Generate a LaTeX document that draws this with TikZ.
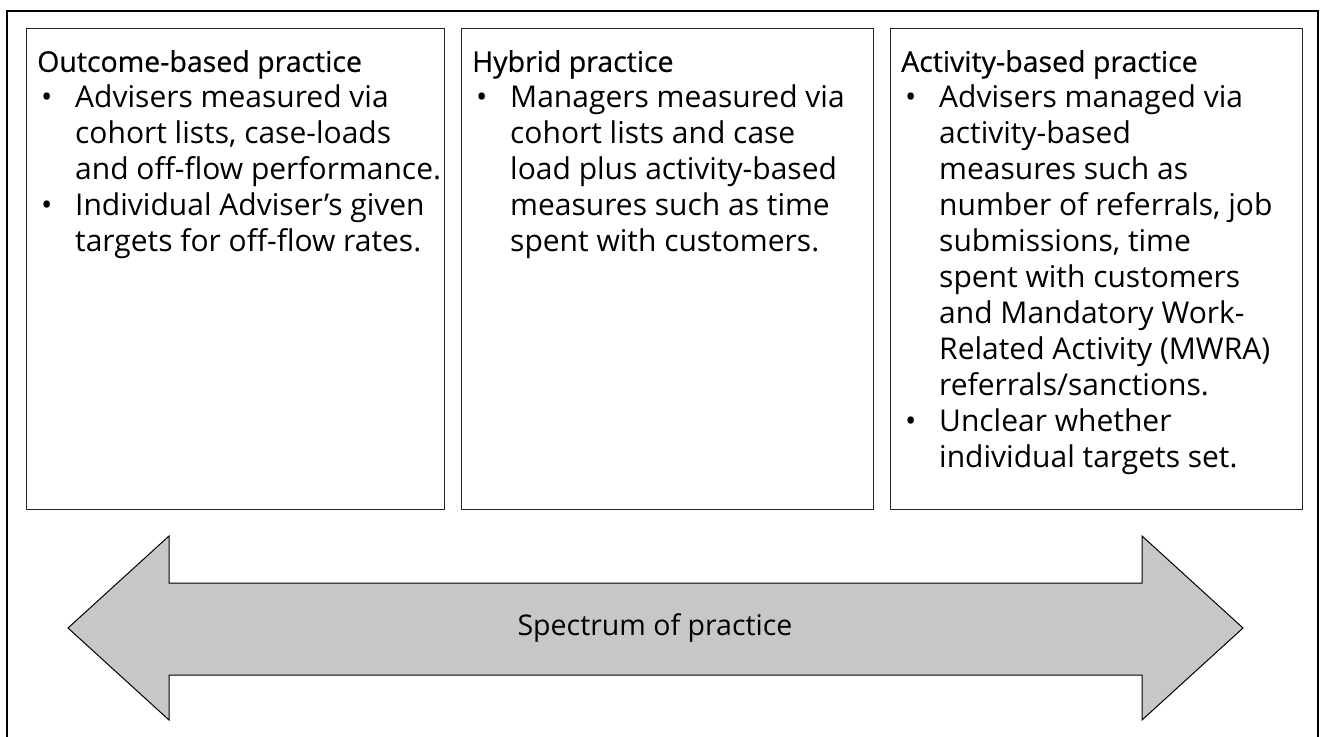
\documentclass[tikz,border=0pt]{standalone}
\usepackage{fontspec}
\setmainfont{Open Sans}
\newfontfamily\titlefont{Open Sans}[FakeBold=0.6]
\usetikzlibrary{positioning}

\definecolor{spectrumgray}{HTML}{C6C7C9}
\tikzset{
    panel/.style={draw=black!85, line width=1pt, anchor=north west,
        minimum width=#1, minimum height=481pt, inner sep=0pt},
    paneltext/.style={align=left, inner sep=0pt,
        font=\fontsize{30}{36}\selectfont},
    spectrum/.style={draw=black, line width=1pt, fill=spectrumgray, line join=miter},
}
\newcommand{\bul}{\makebox[38pt][l]{\hspace{4pt}\textbullet}}
\newcommand{\ind}{\hspace*{38pt}}
\newcommand{\paneltitle}[1]{{\titlefont\fontsize{28.5}{36}\selectfont #1}}

\begin{document}
\begin{tikzpicture}[x=1pt,y=-1pt]
    \useasboundingbox (0,0) rectangle (1321,736);
    \draw[line width=2pt] (7,740) -- (7,11) -- (1318,11) -- (1318,740);
    \foreach \name/\x/\w in {outcome/26/418pt, hybrid/461/412pt, activity/890/412pt}
    {
        \node[panel=\w] (\name) at (\x, 28) {};
    }
    \node[paneltext, below right=22pt and 11pt of outcome.north west] (outcometext)
        {\paneltitle{Outcome-based practice}\\
         \bul Advisers measured via\\
         \ind cohort lists, case-loads\\
         \ind and off-flow performance.\\
         \bul Individual Adviser’s given\\
         \ind targets for off-flow rates.};
    \node[paneltext, below right=22pt and 11pt of hybrid.north west] (hybridtext)
        {\paneltitle{Hybrid practice}\\
         \bul Managers measured via\\
         \ind cohort lists and case\\
         \ind load plus activity-based\\
         \ind measures such as time\\
         \ind spent with customers.};
    \node[paneltext, below right=22pt and 11pt of activity.north west] (activitytext)
        {\paneltitle{Activity-based practice}\\
         \bul Advisers managed via\\
         \ind activity-based\\
         \ind measures such as\\
         \ind number of referrals, job\\
         \ind submissions, time\\
         \ind spent with customers\\
         \ind and Mandatory Work-\\
         \ind Related Activity (MWRA)\\
         \ind referrals/sanctions.\\
         \bul Unclear whether\\
         \ind individual targets set.};
    % double-headed spectrum arrow
    \draw[spectrum] (68,628) -- (169,536) -- (169,583) -- (1142,583) -- (1142,536)
        -- (1243,628) -- (1142,720) -- (1142,675) -- (169,675) -- (169,720) -- cycle;
    \node[paneltext, font=\fontsize{28.5}{36}\selectfont] (spectrum) at (655,628)
        {Spectrum of practice};
\end{tikzpicture}
\end{document}
